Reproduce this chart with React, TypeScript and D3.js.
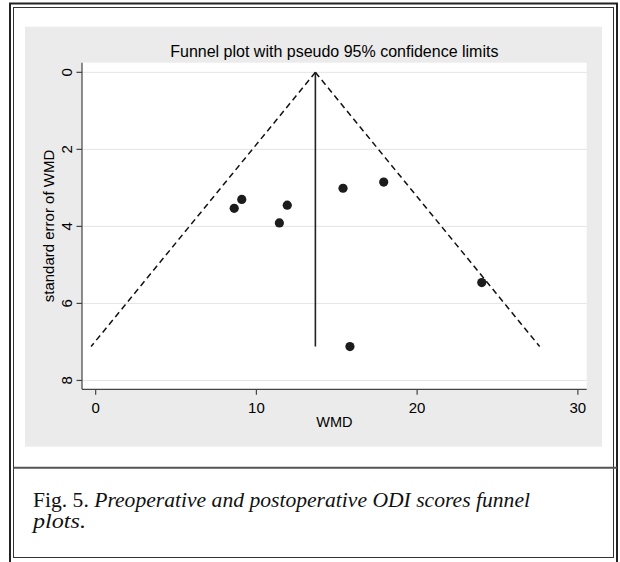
import { scaleLinear, line, max } from "d3";

// study estimates
const wmd = [8.62, 9.09, 11.92, 11.43, 15.39, 17.92, 15.82, 24.02];
const seWmd = [3.53, 3.3, 3.45, 3.91, 3.01, 2.85, 7.12, 5.46];
const pooledWmd = 13.67;
const zCrit = 1.96;

const xTicks = [0, 10, 20, 30];
const yTicks = [0, 2, 4, 6, 8];

const title = "Funnel plot with pseudo 95% confidence limits";
const xLabel = "WMD";
const yLabel = "standard error of WMD";
const captionLead = "Fig. 5. ";
const captionItalic1 = "Preoperative and postoperative ODI scores funnel";
const captionItalic2 = "plots.";

const W = 620;
const H = 562;
const plot = { left: 82, right: 586.7, top: 62.7, bottom: 389.3 };
const sans = "'Liberation Sans', Arial, sans-serif";
const serif = "'Liberation Serif', 'Times New Roman', serif";

export default function App() {
  const x = scaleLinear().domain([-0.85, 30.55]).range([plot.left, plot.right]);
  const y = scaleLinear().domain([-0.25, 8.23]).range([plot.top, plot.bottom]);

  const seMax = max(seWmd) ?? 0;
  const lineGen = line<[number, number]>()
    .x((d) => x(d[0]))
    .y((d) => y(d[1]));

  const leftLimit: [number, number][] = [
    [pooledWmd, 0],
    [pooledWmd - zCrit * seMax, seMax],
  ];
  const rightLimit: [number, number][] = [
    [pooledWmd, 0],
    [pooledWmd + zCrit * seMax, seMax],
  ];
  const pooledLine: [number, number][] = [
    [pooledWmd, 0],
    [pooledWmd, seMax],
  ];

  const midX = (plot.left + plot.right) / 2;
  const midY = (plot.top + plot.bottom) / 2;

  return (
    <svg
      width={W}
      height={H}
      style={{ position: "absolute", left: 0, top: 0, background: "#fff" }}
    >
      {/* chart background */}
      <rect x={25} y={26.7} width={577} height={420} fill="#ebebeb" />
      <rect
        x={plot.left}
        y={plot.top}
        width={plot.right - plot.left}
        height={plot.bottom - plot.top}
        fill="#fff"
      />

      {/* grid */}
      {yTicks.map((t) => (
        <line
          key={`g${t}`}
          x1={plot.left}
          x2={plot.right}
          y1={y(t)}
          y2={y(t)}
          stroke="#e4e4e4"
          strokeWidth={1}
        />
      ))}

      <text
        x={midX}
        y={56.5}
        textAnchor="middle"
        fontFamily={sans}
        fontSize={16}
        fill="#000"
      >
        {title}
      </text>

      {/* funnel */}
      <path
        d={lineGen(leftLimit) ?? ""}
        fill="none"
        stroke="#111"
        strokeWidth={1.5}
        strokeDasharray="6,4"
      />
      <path
        d={lineGen(rightLimit) ?? ""}
        fill="none"
        stroke="#111"
        strokeWidth={1.5}
        strokeDasharray="6,4"
      />
      <path d={lineGen(pooledLine) ?? ""} fill="none" stroke="#222" strokeWidth={1.6} />

      {wmd.map((v, i) => (
        <circle key={i} cx={x(v)} cy={y(seWmd[i])} r={4.6} fill="#1c1c1c" />
      ))}

      {/* axes */}
      <line x1={plot.left} x2={plot.left} y1={plot.top} y2={plot.bottom} stroke="#444" strokeWidth={1.2} />
      <line x1={plot.left} x2={plot.right} y1={plot.bottom} y2={plot.bottom} stroke="#444" strokeWidth={1.2} />

      {yTicks.map((t) => (
        <g key={`y${t}`}>
          <line x1={plot.left - 5.5} x2={plot.left} y1={y(t)} y2={y(t)} stroke="#444" strokeWidth={1.2} />
          <text
            transform={`translate(72,${y(t)}) rotate(-90)`}
            textAnchor="middle"
            fontFamily={sans}
            fontSize={15}
            fill="#000"
          >
            {t}
          </text>
        </g>
      ))}

      {xTicks.map((t) => (
        <g key={`x${t}`}>
          <line x1={x(t)} x2={x(t)} y1={plot.bottom} y2={plot.bottom + 5.5} stroke="#444" strokeWidth={1.2} />
          <text x={x(t)} y={413} textAnchor="middle" fontFamily={sans} fontSize={15} fill="#000">
            {t}
          </text>
        </g>
      ))}

      <text x={midX} y={427} textAnchor="middle" fontFamily={sans} fontSize={14.5} fill="#000">
        {xLabel}
      </text>
      <text
        transform={`translate(54,${midY}) rotate(-90)`}
        textAnchor="middle"
        fontFamily={sans}
        fontSize={15}
        fill="#000"
      >
        {yLabel}
      </text>

      {/* frame */}
      <rect x={10} y={3.5} width={607} height={565} fill="none" stroke="#222" strokeWidth={2} />
      <rect x={13.5} y={7.5} width={600} height={550} fill="none" stroke="#333" strokeWidth={1} />
      <line x1={13.5} x2={617} y1={467.7} y2={467.7} stroke="#555" strokeWidth={2} />

      {/* caption */}
      <text
        x={33}
        y={506.7}
        fontFamily={serif}
        fontSize={20.5}
        fill="#111"
        textLength={497}
        lengthAdjust="spacingAndGlyphs"
      >
        <tspan>{captionLead}</tspan>
        <tspan fontStyle="italic">{captionItalic1}</tspan>
      </text>
      <text
        x={33}
        y={528}
        fontFamily={serif}
        fontSize={20.5}
        fontStyle="italic"
        fill="#111"
        textLength={53}
        lengthAdjust="spacingAndGlyphs"
      >
        {captionItalic2}
      </text>
    </svg>
  );
}
